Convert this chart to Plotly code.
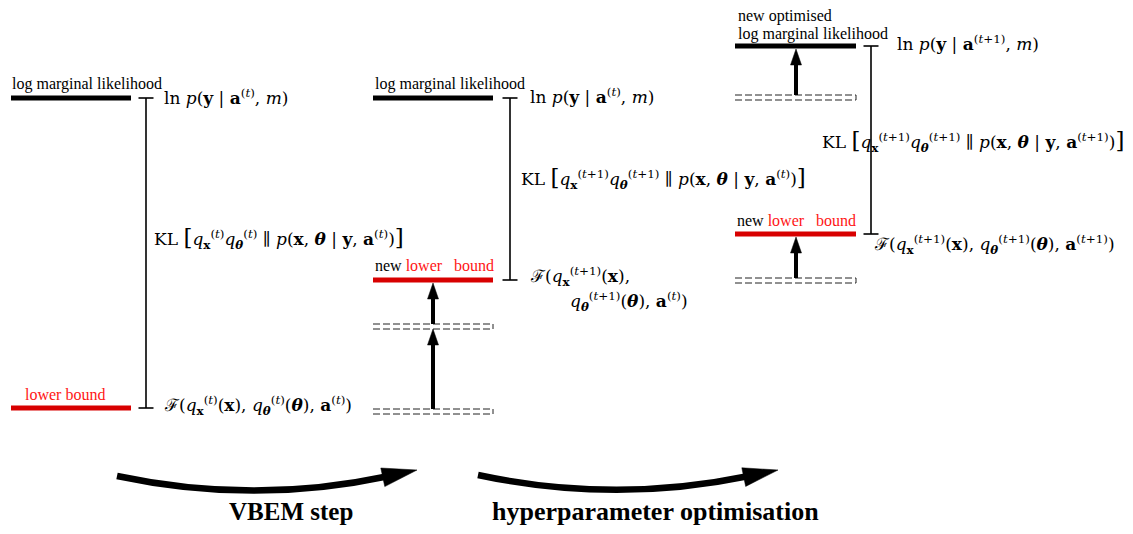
import numpy as np
import plotly.graph_objects as go

W, H = 1133, 534
PAGE_MARGIN = 8   # default body margin of the written html page

# ---------------- data (diagram units, y grows downward) ----------------
bar_x0 = [11, 373, 735]
bar_x1 = [131, 493, 856]
lml_level = [98, 98, 46]          # log marginal likelihood level per stage
lb_level = [408, 280, 234]        # lower bound level per stage
ghost_levels = [[], [324, 409], [95, 278]]   # earlier (dashed) positions
bracket_x = [146, 510, 871]
arrow_x = [None, 433, 796]
arrow_from_to = [[], [(409, 329), (324, 283)], [(95, 49), (278, 237)]]

lml_labels = [["log marginal likelihood"], ["log marginal likelihood"],
              ["new optimised", "log marginal likelihood"]]
lml_label_x = [10, 373, 736]
lml_label_y = [[84], [84], [16, 34]]

step_labels = ["VBEM step", "hyperparameter optimisation"]
step_start = [(117, 476), (478, 475)]
step_ctrl = [(253, 505), (614, 504)]
step_tip = [(417, 470), (778, 470)]
step_label_x = [291, 655]
step_label_size = [25, 26]
step_label_y = 511

RED_BAR = "#d80000"
RED_TXT = "#ff1414"
SERIF = "Liberation Serif"
MATH = "DejaVu Serif"
MSIZE = 17

fig = go.Figure()
shapes = []
ann = []


def line(x0, y0, x1, y1, color="black", width=1.5, dash=None):
    d = dict(type="line", xref="x", yref="y", x0=x0, y0=y0, x1=x1, y1=y1,
             line=dict(color=color, width=width))
    if dash:
        d["line"]["dash"] = dash
    shapes.append(d)


def poly(pts, color="black"):
    path = "M " + " L ".join(f"{x:.2f},{y:.2f}" for x, y in pts) + " Z"
    shapes.append(dict(type="path", xref="x", yref="y", path=path,
                       fillcolor=color, line=dict(color=color, width=0.5)))


def text(x, y, s, size=MSIZE, color="black", xanchor="left", font=MATH):
    ann.append(dict(x=x, y=y, xref="x", yref="y", text=s, showarrow=False,
                    xanchor=xanchor, yanchor="middle",
                    font=dict(family=font, size=size, color=color)))


for i in range(3):
    x0, x1 = bar_x0[i], bar_x1[i]
    line(x0, lml_level[i], x1, lml_level[i], "black", 5)
    line(x0, lb_level[i], x1, lb_level[i], RED_BAR, 5)
    bx = bracket_x[i]
    line(bx, lml_level[i], bx, lb_level[i], "black", 1.6)
    line(bx - 7.5, lml_level[i], bx + 7.5, lml_level[i], "black", 1.6)
    line(bx - 7.5, lb_level[i], bx + 7.5, lb_level[i], "black", 1.6)
    for g in ghost_levels[i]:
        line(x0, g, x1, g, "#222", 1, "7px,3px")
        line(x0, g + 5, x1, g + 5, "#222", 1, "7px,3px")
        line(x1, g, x1, g + 5, "#222", 1)
    for (ya, yb) in arrow_from_to[i]:
        ax = arrow_x[i]
        head = 16
        line(ax, ya, ax, yb + head - 2, "black", 4)
        poly([(ax, yb), (ax - 5.5, yb + head), (ax + 5.5, yb + head)])
    for s, yy in zip(lml_labels[i], lml_label_y[i]):
        text(lml_label_x[i], yy, s, 16, font=SERIF)

nb = "\u00a0"
text(65, 394, "lower bound", 16, RED_TXT, xanchor="center", font=SERIF)
newlb = f"new <span style='color:{RED_TXT}'>lower{nb}{nb}{nb}bound</span>"
text(373, 265, newlb, 16, font=SERIF)
text(735, 220, newlb, 16, font=SERIF)


def sup(s):
    return f"<sup>{s}</sup>"


def sub(s):
    return f"<sub>{s}</sub>"


t = "(<i>t</i>)"
t1 = "(<i>t</i>+1)"
bx_ = "<b>x</b>"
bth = "<b><i>θ</i></b>"
ba = "<b>a</b>"
by = "<b>y</b>"
LB = "<span style='font-size:23px'>[</span>"
RB = "<span style='font-size:23px'>]</span>"

ln_t = f"ln <i>p</i>({by} | {ba}{sup(t)}, <i>m</i>)"
ln_t1 = f"ln <i>p</i>({by} | {ba}{sup(t1)}, <i>m</i>)"
kl1 = (f"KL {LB}<i>q</i>{sub(bx_)}{sup(t)}<i>q</i>{sub(bth)}{sup(t)} ∥ "
       f"<i>p</i>({bx_}, {bth} | {by}, {ba}{sup(t)}){RB}")
kl2 = (f"KL {LB}<i>q</i>{sub(bx_)}{sup(t1)}<i>q</i>{sub(bth)}{sup(t1)} ∥ "
       f"<i>p</i>({bx_}, {bth} | {by}, {ba}{sup(t)}){RB}")
kl3 = (f"KL {LB}<i>q</i>{sub(bx_)}{sup(t1)}<i>q</i>{sub(bth)}{sup(t1)} ∥ "
       f"<i>p</i>({bx_}, {bth} | {by}, {ba}{sup(t1)}){RB}")
F1 = f"ℱ(<i>q</i>{sub(bx_)}{sup(t)}({bx_}), <i>q</i>{sub(bth)}{sup(t)}({bth}), {ba}{sup(t)})"
F2a = f"ℱ(<i>q</i>{sub(bx_)}{sup(t1)}({bx_}),"
F2b = f"<i>q</i>{sub(bth)}{sup(t1)}({bth}), {ba}{sup(t)})"
F3 = f"ℱ(<i>q</i>{sub(bx_)}{sup(t1)}({bx_}), <i>q</i>{sub(bth)}{sup(t1)}({bth}), {ba}{sup(t1)})"

text(162, 97, ln_t)
text(152, 238, kl1)
text(162, 405, F1)
text(528, 96, ln_t)
text(519, 178, kl2)
text(528, 276, F2a)
text(568, 301, F2b)
text(895, 43, ln_t1)
text(820, 141, kl3)
text(872, 244, F3)

for k in range(2):
    p0 = np.array(step_start[k], float)
    c = np.array(step_ctrl[k], float)
    tip = np.array(step_tip[k], float)
    d = tip - c
    d /= np.linalg.norm(d)
    perp = np.array([-d[1], d[0]])
    head_len, half_w = 35, 9.5
    base = tip - d * head_len
    end = tip - d * (head_len - 4)
    shapes.append(dict(type="path", xref="x", yref="y",
                       path=f"M {p0[0]},{p0[1]} Q {c[0]},{c[1]} {end[0]:.2f},{end[1]:.2f}",
                       line=dict(color="black", width=6.5)))
    poly([tuple(tip), tuple(base + perp * half_w), tuple(base - perp * half_w)])
    text(step_label_x[k], step_label_y, f"<b>{step_labels[k]}</b>",
         step_label_size[k], xanchor="center", font=SERIF)

m = PAGE_MARGIN
fig.update_layout(
    width=W - 2 * m, height=H - 2 * m, margin=dict(l=0, r=0, t=0, b=0),
    paper_bgcolor="white", plot_bgcolor="white",
    xaxis=dict(range=[m, W - m], visible=False, fixedrange=True),
    yaxis=dict(range=[H - m, m], visible=False, fixedrange=True),
    shapes=shapes, annotations=ann, showlegend=False,
)
fig.write_html("out.html")
